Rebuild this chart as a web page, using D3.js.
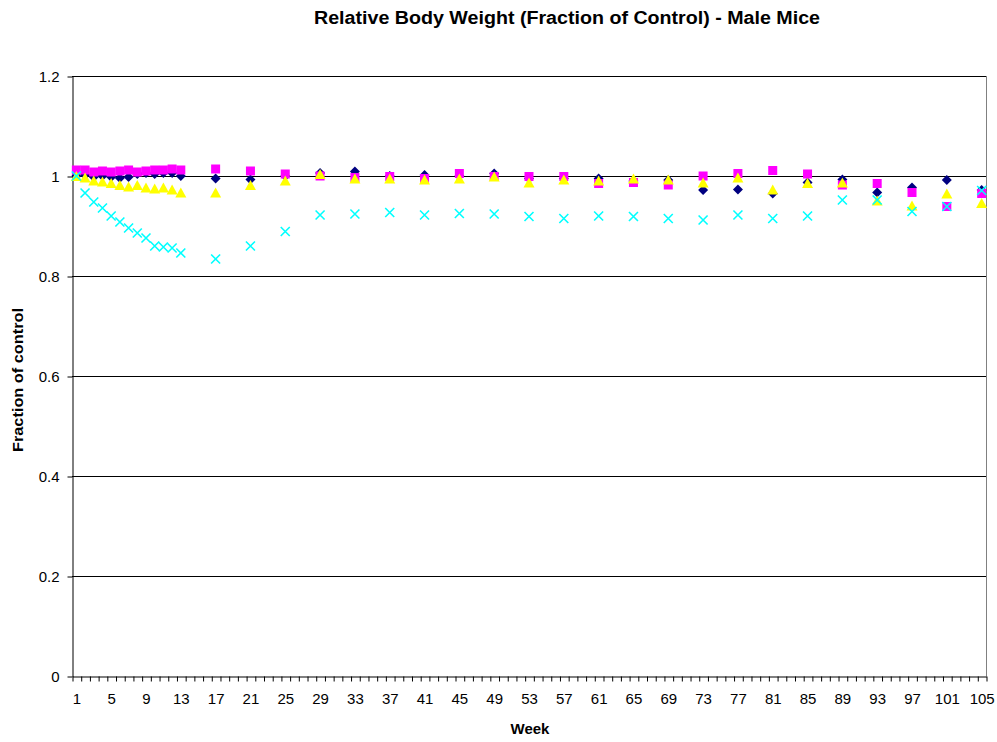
<!DOCTYPE html>
<html>
<head>
<meta charset="utf-8">
<script src="https://cdn.jsdelivr.net/npm/d3@7"></script>
<style>
  html, body { margin: 0; padding: 0; background: #fff; }
  svg { display: block; font-family: "Liberation Sans", Arial, sans-serif; }
</style>
</head>
<body>
<svg id="chart" width="997" height="742"></svg>
<script>
// ---- data ----
const weeks = [1,2,3,4,5,6,7,8,9,10,11,12,13,17,21,25,29,33,37,41,45,49,53,57,61,65,69,73,77,81,85,89,93,97,101,105];
const xTickLabels = [1,5,9,13,17,21,25,29,33,37,41,45,49,53,57,61,65,69,73,77,81,85,89,93,97,101,105];
const yTickValues = [0, 0.2, 0.4, 0.6, 0.8, 1, 1.2];

const navy = [1.0,1.002,0.998,1.0,0.998,0.996,0.998,1.004,1.006,1.004,1.006,1.006,1.0,
  0.995,0.993,1.0,1.006,1.009,1.0,1.002,1.0,1.005,0.995,0.995,0.995,0.99,0.992,0.972,
  0.973,0.965,0.987,0.993,0.967,0.977,0.992,0.972];
const magenta = [1.012,1.012,1.008,1.01,1.008,1.01,1.012,1.008,1.01,1.012,1.012,1.014,1.012,
  1.014,1.01,1.004,1.0,0.997,0.999,0.995,1.005,0.999,0.999,0.999,0.985,0.987,0.982,1.0,
  1.005,1.011,1.004,0.982,0.985,0.967,0.939,0.965];
const yellow = [0.998,0.995,0.989,0.987,0.984,0.98,0.977,0.98,0.975,0.973,0.975,0.971,0.965,
  0.965,0.98,0.989,1.002,0.993,0.993,0.991,0.993,0.997,0.985,0.991,0.989,0.993,0.991,0.985,
  0.995,0.971,0.984,0.985,0.949,0.939,0.963,0.944];
const cyan = [1.0,0.966,0.948,0.936,0.92,0.908,0.896,0.886,0.876,0.86,0.858,0.856,0.846,
  0.834,0.86,0.889,0.922,0.924,0.927,0.922,0.925,0.924,0.919,0.915,0.92,0.919,0.915,0.912,
  0.922,0.915,0.92,0.952,0.952,0.929,0.939,0.971];

// ---- layout ----
const svg = d3.select("#chart");
const pLeft = 72, pRight = 986, pTop = 76, pBottom = 676;
const FONT = "'Liberation Sans', Arial, sans-serif";

const x = d3.scaleLinear().domain([0.5, 105.5]).range([pLeft, pRight]);
const y = d3.scaleLinear().domain([0, 1.2]).range([pBottom, pTop]);

// gridlines
svg.append("g")
  .selectAll("line")
  .data(yTickValues.filter(v => v > 0))
  .join("line")
  .attr("x1", pLeft).attr("x2", pRight)
  .attr("y1", d => Math.round(y(d)) + 0.5).attr("y2", d => Math.round(y(d)) + 0.5)
  .attr("stroke", "#000").attr("stroke-width", 1);

// right border
svg.append("line")
  .attr("x1", pRight + 0.5).attr("x2", pRight + 0.5)
  .attr("y1", pTop).attr("y2", pBottom)
  .attr("stroke", "#808080");

// y axis
const yAxis = svg.append("g")
  .attr("transform", `translate(${pLeft + 0.5},0.5)`)
  .call(d3.axisLeft(y).tickValues(yTickValues).tickSize(5).tickSizeOuter(0)
        .tickFormat(d => String(+d.toFixed(1))));
yAxis.select(".domain").attr("stroke", "#000");
yAxis.selectAll(".tick line").attr("stroke", "#000");
yAxis.selectAll(".tick text").attr("font-size", 15).attr("fill", "#000")
  .attr("font-family", FONT).attr("x", -13);

// x axis: tick marks at category boundaries
const boundaries = d3.range(0, 106).map(i => i + 0.5);
const xMarks = svg.append("g")
  .attr("transform", `translate(0.5,${pBottom + 0.5})`)
  .call(d3.axisBottom(x).tickValues(boundaries).tickSize(5).tickSizeOuter(0).tickFormat(""));
xMarks.select(".domain").attr("stroke", "#000");
xMarks.selectAll(".tick line").attr("stroke", "#000");

// x axis labels
const xLabels = svg.append("g")
  .attr("transform", `translate(0,${pBottom})`)
  .call(d3.axisBottom(x).tickValues(xTickLabels).tickSize(0).tickPadding(17));
xLabels.select(".domain").remove();
xLabels.selectAll(".tick text").attr("font-size", 15).attr("fill", "#000")
  .attr("font-family", FONT);

// ---- markers ----
const plot = svg.append("g");
function pts(vals) { return vals.map((v, i) => ({ w: weeks[i], v })); }

// navy diamonds
plot.append("g").selectAll("path")
  .data(pts(navy)).join("path")
  .attr("transform", d => `translate(${x(d.w)},${y(d.v)})`)
  .attr("d", "M0,-5L5,0L0,5L-5,0Z")
  .attr("fill", "#000080");

// magenta squares
plot.append("g").selectAll("rect")
  .data(pts(magenta)).join("rect")
  .attr("x", d => x(d.w) - 4.5).attr("y", d => y(d.v) - 4.5)
  .attr("width", 9).attr("height", 9)
  .attr("fill", "#FF00FF");

// yellow triangles
plot.append("g").selectAll("path")
  .data(pts(yellow)).join("path")
  .attr("transform", d => `translate(${x(d.w)},${y(d.v)})`)
  .attr("d", "M0,-6L5.5,4L-5.5,4Z")
  .attr("fill", "#FFFF00");

// cyan x
plot.append("g").selectAll("path")
  .data(pts(cyan)).join("path")
  .attr("transform", d => `translate(${x(d.w)},${y(d.v)})`)
  .attr("d", "M-4.5,-4.5L4.5,4.5M-4.5,4.5L4.5,-4.5")
  .attr("stroke", "#00FFFF").attr("stroke-width", 1.6).attr("fill", "none");

// ---- titles ----
svg.append("text")
  .attr("x", 567).attr("y", 24)
  .attr("text-anchor", "middle")
  .attr("font-size", 18).attr("font-weight", "bold")
  .attr("textLength", 506).attr("lengthAdjust", "spacingAndGlyphs")
  .text("Relative Body Weight (Fraction of Control) - Male Mice");

svg.append("text")
  .attr("x", 530).attr("y", 734)
  .attr("text-anchor", "middle")
  .attr("font-size", 15).attr("font-weight", "bold")
  .text("Week");

svg.append("text")
  .attr("transform", "translate(23,380) rotate(-90)")
  .attr("text-anchor", "middle")
  .attr("font-size", 15).attr("font-weight", "bold")
  .attr("textLength", 144).attr("lengthAdjust", "spacingAndGlyphs")
  .text("Fraction of control");
</script>
</body>
</html>
